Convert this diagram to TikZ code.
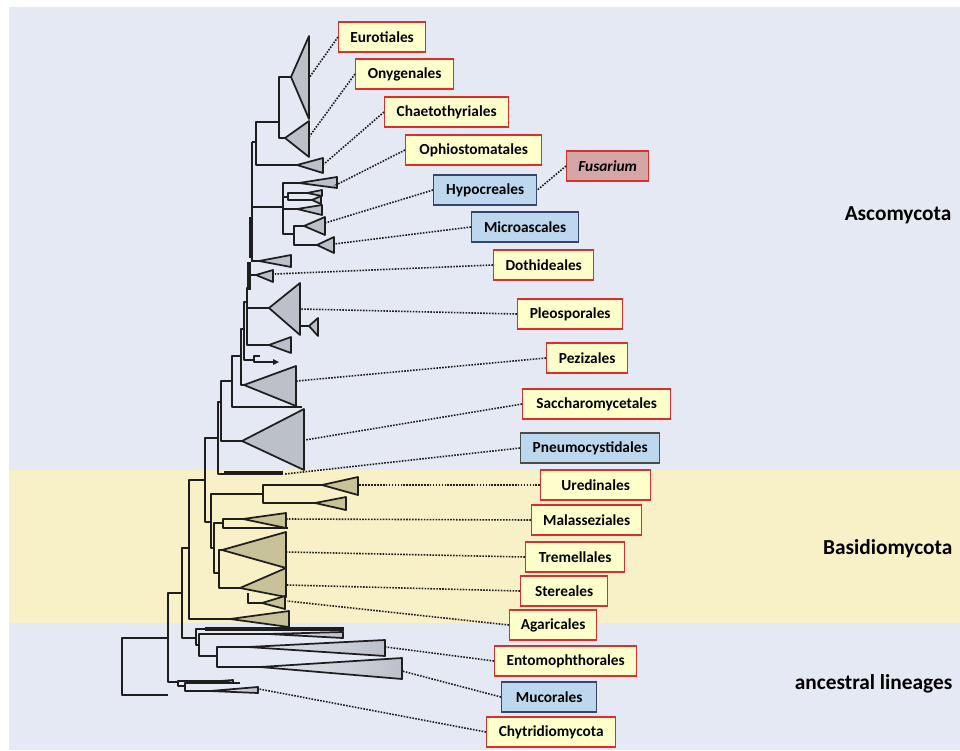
\documentclass[tikz,border=0pt]{standalone}
\usepackage{fontspec}
\setmainfont{Carlito}

\definecolor{bgblue}{RGB}{229,233,243}
\definecolor{bandyellow}{RGB}{248,240,198}
\definecolor{ascgray}{RGB}{188,192,201}
\definecolor{basfill}{RGB}{200,194,152}
\definecolor{treeline}{RGB}{30,30,30}
\definecolor{boxred}{RGB}{222,45,45}
\definecolor{boxyellow}{RGB}{255,255,204}
\definecolor{boxblue}{RGB}{189,215,238}
\definecolor{boxedge}{RGB}{50,70,110}
\definecolor{fusfill}{RGB}{212,166,166}

\begin{document}
\begin{tikzpicture}[x=0.75pt,y=-0.75pt,
	tree/.style={draw=treeline,line width=1.3pt,line join=round},
	asc/.style={tree,fill=ascgray},
	bas/.style={tree,fill=basfill},
	anc/.style={tree,left color=bgblue,right color=ascgray},
	lbl/.style={draw=boxred,fill=boxyellow,line width=1pt,anchor=west,minimum height=22.5pt,inner xsep=0pt,font=\bfseries\fontsize{11.5}{13}\selectfont},
	blu/.style={lbl,draw=boxedge,fill=boxblue},
	lnk/.style={densely dotted,line width=1.2pt,draw=treeline},
	grp/.style={anchor=east,font=\bfseries\fontsize{16}{19}\selectfont}]
	\useasboundingbox (0,0) rectangle (960,750);

	% background bands
	\fill[white] (0,0) rectangle (960,750);
	\fill[bgblue] (9,7) rectangle (960,750);
	\fill[bandyellow] (9,470) rectangle (960,623);

	% Ascomycota, upper part
	\begin{scope}
		\draw[tree] (291,77) -- (279,77) -- (279,138) -- (285,138);
		\draw[tree] (279,122) -- (256,122) -- (256,165) -- (297,165);
		\draw[tree] (252,142) -- (256,142);
		\draw[tree] (252,142) -- (252,262);
		\draw[tree,line width=2.4pt] (251,217) -- (251,258);
		\draw[tree] (252,207) -- (283,207);
		\draw[tree] (299,183) -- (283,183) -- (283,234) -- (294,234);
		\draw[tree,line width=2.2pt] (283,192) -- (283,223);
		\draw[tree] (283,209) -- (297,209);
		\draw[tree] (283,197) -- (288,197);
		\draw[tree] (307,193) -- (288,193) -- (288,200) -- (312,200);
		\draw[tree] (304,226) -- (294,226) -- (294,245) -- (317,245);

		\draw[asc] (291,77) -- (309,36) -- (309,119) -- cycle;
		\draw[asc] (285,138) -- (309,121) -- (309,157) -- cycle;
		\draw[asc] (297,165) -- (323,158) -- (323,173) -- cycle;
		\draw[asc] (299,183) -- (337,177) -- (337,188) -- cycle;
		\draw[asc] (307,193) -- (322,190) -- (322,196) -- cycle;
		\draw[asc] (312,200) -- (321,196) -- (321,204) -- cycle;
		\draw[asc] (297,209) -- (322,205) -- (322,215) -- cycle;
		\draw[asc] (304,226) -- (325,217) -- (325,235) -- cycle;
		\draw[asc] (317,245) -- (334,237) -- (334,253) -- cycle;
	\end{scope}

	% Ascomycota, lower part
	\begin{scope}
		\draw[tree] (252,261) -- (259,261);
		\draw[tree,line width=2.4pt] (249,262) -- (249,290);
		\draw[tree] (249,275) -- (256,275);
		\draw[tree] (249,288) -- (247,288) -- (247,345) -- (269,345);
		\draw[tree] (247,308) -- (269,308);
		\draw[tree] (300,326) -- (309,326);
		\draw[tree] (247,302) -- (244,302) -- (244,360) -- (254,360);
		\draw[tree] (260,356) -- (254,356) -- (254,362) -- (276,362);
		\fill[treeline] (273,359) -- (279,362) -- (273,365) -- cycle;
		\draw[tree] (244,329) -- (241,329) -- (241,385) -- (244,385);
		\draw[tree] (241,356) -- (232,356) -- (232,407) -- (302,407);
		\draw[tree] (232,381) -- (221,381) -- (221,441) -- (242,441);
		\draw[tree] (221,402) -- (218,402) -- (218,474) -- (224,474);
		\draw[tree,line width=2.4pt] (224,473) -- (283,473);
		\draw[tree] (218,438) -- (205,438) -- (205,522) -- (211,522);
		\draw[tree] (205,480) -- (189,480) -- (189,619) -- (230,619);

		\draw[asc] (259,261) -- (291,255) -- (291,267) -- cycle;
		\draw[asc] (256,275) -- (273,270) -- (273,282) -- cycle;
		\draw[asc] (269,308) -- (300,283) -- (300,335) -- cycle;
		\draw[asc] (309,326) -- (318,318) -- (318,336) -- cycle;
		\draw[asc] (269,345) -- (291,337) -- (291,353) -- cycle;
		\draw[asc] (244,385) -- (296,366) -- (296,406) -- cycle;
		\draw[asc] (242,441) -- (304,409) -- (304,470) -- cycle;
	\end{scope}

	% Basidiomycota
	\begin{scope}
		\draw[tree] (263,494) -- (211,494) -- (211,548) -- (214,548);
		\draw[tree] (322,485) -- (263,485) -- (263,503) -- (315,503);
		\draw[tree] (223,523) -- (214,523) -- (214,573) -- (219,573);
		\draw[tree] (243,519) -- (223,519) -- (223,528) -- (288,528);
		\draw[tree] (222,550) -- (219,550) -- (219,588) -- (240,588);
		\draw[tree] (248,593) -- (248,603) -- (262,603);
		\draw[tree] (189,548) -- (182,548) -- (182,638) -- (196,638);

		\draw[bas] (322,485) -- (358,477) -- (358,495) -- cycle;
		\draw[bas] (315,503) -- (346,497) -- (346,510) -- cycle;
		\draw[bas] (243,519) -- (286,513) -- (286,528) -- cycle;
		\draw[bas] (222,550) -- (286,532) -- (286,568) -- cycle;
		\draw[bas] (240,588) -- (286,568) -- (286,597) -- cycle;
		\draw[bas] (262,603) -- (285,596) -- (285,609) -- cycle;
		\draw[bas] (230,619) -- (289,611) -- (289,627) -- cycle;
	\end{scope}

	% ancestral lineages
	\begin{scope}
		\draw[tree] (344,629) -- (196,629) -- (196,645) -- (199,645);
		\draw[tree,line width=2.4pt] (205,629) -- (344,629);
		\draw[tree] (268,634) -- (199,634) -- (199,656) -- (217,656);
		\draw[tree] (248,647) -- (217,647) -- (217,667) -- (260,667);
		\draw[tree] (182,593) -- (168,593) -- (168,682) -- (178,682);
		\draw[tree] (168,638) -- (122,638) -- (122,695) -- (168,695);
		\draw[tree] (220,681) -- (178,681) -- (178,686) -- (185,686);
		\draw[tree] (240,683) -- (185,683) -- (185,691) -- (210,691);

		\draw[anc] (268,634) -- (343,632) -- (343,638) -- cycle;
		\draw[anc] (248,647) -- (385,640) -- (385,656) -- cycle;
		\draw[anc] (260,667) -- (402,658) -- (402,679) -- cycle;
		\draw[anc] (220,681) -- (233,680) -- (233,683) -- cycle;
		\draw[anc] (210,691) -- (258,687) -- (258,693) -- cycle;
	\end{scope}

	% clade tips
	\coordinate (eurT) at (309,78);
	\coordinate (onyT) at (309,137);
	\coordinate (chaT) at (324,164);
	\coordinate (ophT) at (334,186);
	\coordinate (hypT) at (325,223);
	\coordinate (micT) at (334,244);
	\coordinate (dotT) at (275,274);
	\coordinate (pleT) at (300,309);
	\coordinate (pezT) at (297,381);
	\coordinate (sacT) at (305,440);
	\coordinate (pneT) at (285,474);
	\coordinate (ureT) at (359,485);
	\coordinate (malT) at (287,519);
	\coordinate (treT) at (287,552);
	\coordinate (steT) at (287,585);
	\coordinate (agaT) at (287,601);
	\coordinate (entT) at (386,647);
	\coordinate (mucT) at (402,671);
	\coordinate (chyT) at (259,689);

	% order labels
	\node[lbl,minimum width=65.25pt] (eur) at (338,37) {Eurotiales};
	\node[lbl,minimum width=73.5pt] (ony) at (355,74) {Onygenales};
	\node[lbl,minimum width=93pt] (cha) at (384,112) {Chaetothyriales};
	\node[lbl,minimum width=102pt] (oph) at (405,150) {Ophiostomatales};
	\node[lbl,fill=fusfill,minimum width=61.5pt,font=\bfseries\itshape\fontsize{11.5}{13}\selectfont] (fus) at (566,166) {Fusarium};
	\node[blu,minimum width=77.25pt] (hyp) at (433,190) {Hypocreales};
	\node[blu,minimum width=80.25pt] (mic) at (471,227) {Microascales};
	\node[lbl,minimum width=75pt] (dot) at (493,265) {Dothideales};
	\node[lbl,minimum width=78.75pt] (ple) at (517,314) {Pleosporales};
	\node[lbl,minimum width=60.75pt] (pez) at (546,358) {Pezizales};
	\node[lbl,minimum width=111pt] (sac) at (522,404) {Saccharomycetales};
	\node[blu,draw=treeline!80,minimum width=104.25pt] (pne) at (520,448) {Pneumocystidales};
	\node[lbl,minimum width=82.5pt] (ure) at (540,485) {Uredinales};
	\node[lbl,minimum width=82.5pt] (mal) at (531,520) {Malasseziales};
	\node[lbl,minimum width=74.25pt] (tre) at (525,557) {Tremellales};
	\node[lbl,minimum width=65.25pt] (ste) at (520,591) {Stereales};
	\node[lbl,minimum width=65.25pt] (aga) at (509,625) {Agaricales};
	\node[lbl,minimum width=106.5pt] (ent) at (494,661) {Entomophthorales};
	\node[blu,minimum width=71.25pt] (muc) at (501,697) {Mucorales};
	\node[lbl,minimum width=96.75pt] (chy) at (486,732) {Chytridiomycota};

	% dotted links
	\draw[lnk] (eur.west) -- (eurT);
	\draw[lnk] (ony.west) -- (onyT);
	\draw[lnk] (cha.west) -- (chaT);
	\draw[lnk] (oph.west) -- (ophT);
	\draw[lnk] (fus.west) -- (hyp.east);
	\draw[lnk] (hyp.west) -- (hypT);
	\draw[lnk] (mic.west) -- (micT);
	\draw[lnk] (dot.west) -- (dotT);
	\draw[lnk] (ple.west) -- (pleT);
	\draw[lnk] (pez.west) -- (pezT);
	\draw[lnk] (sac.west) -- (sacT);
	\draw[lnk] (pne.west) -- (pneT);
	\draw[lnk] (ure.west) -- (ureT);
	\draw[lnk] (mal.west) -- (malT);
	\draw[lnk] (tre.west) -- (treT);
	\draw[lnk] (ste.west) -- (steT);
	\draw[lnk] (aga.west) -- (agaT);
	\draw[lnk] (ent.west) -- (entT);
	\draw[lnk] (muc.west) -- (mucT);
	\draw[lnk] (chy.west) -- (chyT);

	% group names
	\node[grp] (asco) at (956,215) {Ascomycota};
	\node[grp] (basi) at (957,549) {Basidiomycota};
	\node[grp] (ance) at (957,684) {ancestral lineages};
\end{tikzpicture}
\end{document}
